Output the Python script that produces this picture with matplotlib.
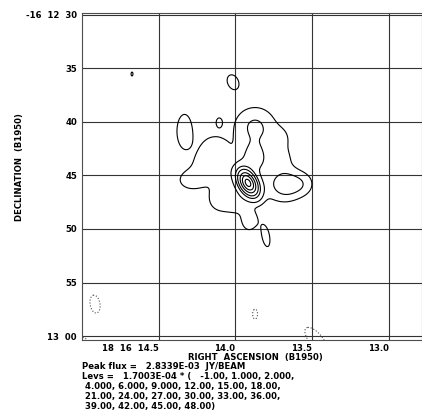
import numpy as np
import matplotlib
matplotlib.use('Agg')
import matplotlib.pyplot as plt

plt.rcParams['font.family'] = ['DejaVu Sans']
plt.rcParams['font.weight'] = 'bold'

# map info
peak_flux = 2.8339e-3          # JY/BEAM
base_lev = 1.7003e-4
lev_mult = [-1.0, 1.0, 2.0, 4.0, 6.0, 9.0, 12.0, 15.0, 18.0,
            21.0, 24.0, 27.0, 30.0, 33.0, 36.0, 39.0, 42.0, 45.0, 48.0]

# emission components (RA seconds of 18h16m, Dec arcsec past -16d12m)
comp_ra   = [13.918, 13.905, 13.872, 13.709, 13.696, 13.670, 13.553, 13.911,
             14.289, 14.146, 14.100, 13.990, 14.211, 14.087, 13.879,
             14.332, 14.107, 14.016, 14.674, 13.801,
             14.915, 13.872, 13.475, 14.993]
comp_dec  = [45.72, 45.25, 40.40, 41.52, 43.29, 45.90, 45.81, 49.26,
             45.44, 42.45, 47.30, 47.77, 44.04, 44.69, 43.39,
             40.87, 40.03, 36.30, 35.55, 50.76,
             57.01, 57.94, 60.36, 60.46]
comp_amp  = [15.2, 0.9, 2.1, 1.0, 0.9, 2.3, 1.0, 1.6,
             1.5, 1.4, 1.3, 0.8, 1.0, 0.7, 1.8,
             1.7, 1.15, 1.5, 1.1, 1.3,
             -1.4, -1.15, -1.7, -1.3]          # in units of base_lev
comp_smaj = [0.89, 2.80, 1.50, 0.75, 0.84, 1.12, 0.84, 0.75,
             1.03, 1.03, 0.93, 0.75, 0.84, 0.93, 1.03,
             1.50, 0.45, 0.78, 0.43, 1.21,
             1.03, 0.88, 1.40, 0.47]           # arcsec
comp_smin = [0.54, 2.24, 1.40, 0.75, 0.84, 1.03, 0.84, 0.56,
             0.75, 1.03, 0.93, 0.75, 0.84, 0.93, 0.93,
             0.68, 0.30, 0.56, 0.21, 0.45,
             0.56, 0.44, 0.60, 0.47]
comp_pa   = [30, 90, 90, 0, 0, 90, 0, 0,
             90, 0, 0, 0, 0, 0, 0,
             0, 0, 25, 0, 10,
             10, 0, 40, 0]                     # deg, N through E

xtick_pos = [14.5, 14.0, 13.5, 13.0]
xtick_lab = ['18  16  14.5', '14.0', '13.5', '13.0']
ytick_pos = [30, 35, 40, 45, 50, 55, 60]
ytick_lab = ['-16  12  30', '35', '40', '45', '50', '55', '13  00']

info_lines = ['Peak flux =   2.8339E-03  JY/BEAM',
              'Levs =   1.7003E-04 * (   -1.00, 1.000, 2.000,',
              ' 4.000, 6.000, 9.000, 12.00, 15.00, 18.00,',
              ' 21.00, 24.00, 27.00, 30.00, 33.00, 36.00,',
              ' 39.00, 42.00, 45.00, 48.00)']

FS = 6.1

# build the map
ra = np.linspace(15.15, 12.70, 500)
dec = np.linspace(29.0, 62.5, 500)
RA, DEC = np.meshgrid(ra, dec)
cosd = np.cos(np.radians(16.2125))
field = np.zeros_like(RA)
for r0, d0, a, smj, smn, pa in zip(comp_ra, comp_dec, comp_amp, comp_smaj, comp_smin, comp_pa):
    e = (RA - r0) * 15 * cosd      # east offset, arcsec
    n = -(DEC - d0)                # north offset, arcsec
    t = np.radians(pa)
    u = e * np.sin(t) + n * np.cos(t)
    v = e * np.cos(t) - n * np.sin(t)
    field += a * np.exp(-0.5 * ((u / smj) ** 2 + (v / smn) ** 2))
field *= base_lev

levs = np.array(lev_mult) * base_lev

fig = plt.figure(figsize=(4.22, 4.19), dpi=100)
ax = fig.add_axes([82 / 422, 1 - 340 / 419, 340 / 422, 327 / 419])

ax.contour(RA, DEC, field, levels=levs[levs > 0], colors='k', linewidths=0.8,
           linestyles='solid')
ax.contour(RA, DEC, field, levels=levs[levs < 0], colors='0.3', linewidths=0.8,
           linestyles=':')

ax.set_xlim(15.0, 12.784)
ax.set_ylim(60.36, 29.86)
ax.set_xticks(xtick_pos)
ax.set_xticklabels(xtick_lab, fontsize=FS, fontweight='bold')
for lbl in ax.get_xticklabels():
    lbl.set_ha('right')
ax.set_yticks(ytick_pos)
ax.set_yticklabels(ytick_lab, fontsize=FS, fontweight='bold')
ax.tick_params(axis='y', length=0, pad=3.6)
ax.tick_params(axis='x', length=0, pad=2.8)
ax.grid(True, color='0.2', lw=0.8)
ax.set_axisbelow(True)
for sp in ax.spines.values():
    sp.set_linewidth(0.8)
    sp.set_color('0.3')

fig.text(255 / 422, 1 - 357.5 / 419, 'RIGHT  ASCENSION  (B1950)', ha='center', va='center',
         fontsize=FS, fontweight='bold')
fig.text(20 / 422, 1 - 167 / 419, 'DECLINATION  (B1950)', ha='center', va='center',
         rotation=90, fontsize=FS, fontweight='bold')

fig.text(82 / 422, 1 - 362 / 419, '\n'.join(info_lines), ha='left', va='top',
         fontsize=FS, fontweight='bold', linespacing=1.15)

fig.savefig('out.png', dpi=100)
